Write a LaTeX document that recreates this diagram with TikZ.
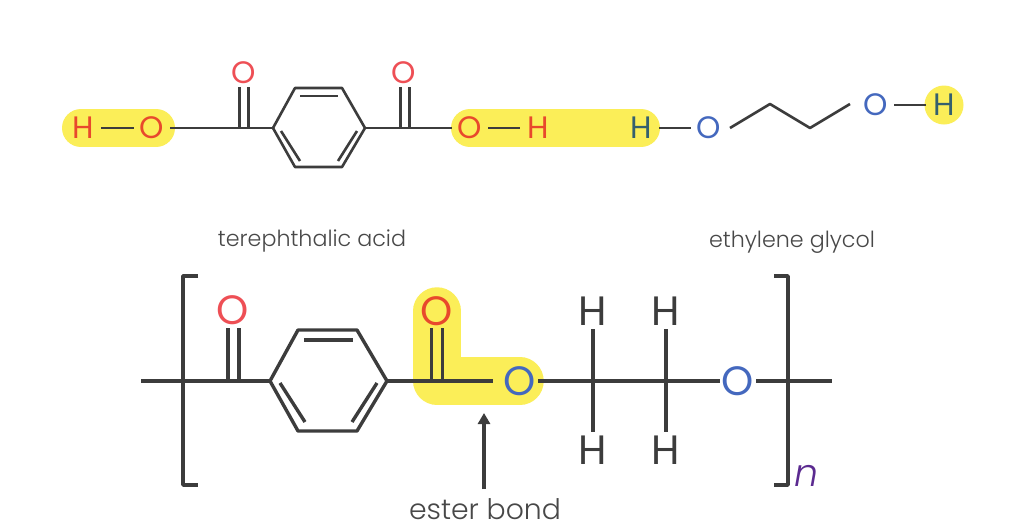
\documentclass[tikz,border=0pt]{standalone}
\usepackage{fontspec}
\setmainfont{Poppins Light}[ItalicFont={Poppins Light Italic}]
\newfontfamily\atomfont{Poppins}
\usetikzlibrary{backgrounds,arrows.meta}
\definecolor{bondc}{HTML}{3C3C3C}
\definecolor{redO}{HTML}{EE4F55}
\definecolor{orangeO}{HTML}{E8492C}
\definecolor{blueO}{HTML}{4468BE}
\definecolor{hlc}{HTML}{FBEE58}
\definecolor{navyH}{HTML}{34606E}
\definecolor{labelc}{HTML}{484848}
\definecolor{purpleN}{HTML}{5B2A90}
\newcommand{\atomtxt}[1]{\makebox[0pt]{#1}}
\tikzset{
  bondA/.style={draw=bondc,line width=2.6pt},
  bondB/.style={draw=bondc,line width=3.4pt},
  atomA/.style={circle,inner sep=0pt,minimum size=36pt,font=\atomfont\fontsize{31}{31}\selectfont},
  atomB/.style={circle,inner sep=0pt,minimum size=36pt,font=\atomfont\fontsize{41}{41}\selectfont},
  capt/.style={inner sep=0pt,text=labelc,font=\fontsize{22.2}{24}\selectfont},
  hl/.style={draw=hlc,line cap=round,line join=round},
}
\begin{document}
\begin{tikzpicture}[x=1pt,y=-1pt]
\useasboundingbox (0,0) rectangle (1031,528);
% ---- top: terephthalic acid
\node[atomA,text=orangeO] (hA) at (83,128) {\atomtxt{H}};
\node[atomA,text=orangeO] (oA) at (152,128) {\atomtxt{O}};
\node[atomA,text=redO] (oB) at (244,73) {\atomtxt{O}};
\node[atomA,text=redO] (oC) at (404,73) {\atomtxt{O}};
\node[atomA,text=orangeO] (oD) at (470,128) {\atomtxt{O}};
\node[atomA,text=orangeO] (hD) at (538,128) {\atomtxt{H}};
\coordinate (r1) at (273,128);
\coordinate (r2) at (295,88);
\coordinate (r3) at (342,88);
\coordinate (r4) at (365,128);
\coordinate (r5) at (342,167);
\coordinate (r6) at (295,167);
\coordinate (i1) at (300,96);
\coordinate (i2) at (338,96);
\coordinate (i3) at (281,131);
\coordinate (i4) at (300,161);
\coordinate (i5) at (357,131);
\coordinate (i6) at (338,161);
\coordinate (dB1) at (239.5,87);
\coordinate (dB2) at (239.5,128);
\coordinate (dB3) at (248.5,87);
\coordinate (dB4) at (248.5,128);
\coordinate (dC1) at (400.5,87);
\coordinate (dC2) at (400.5,128);
\coordinate (dC3) at (409.5,87);
\coordinate (dC4) at (409.5,128);
\draw[bondA] (hA) -- (oA);
\draw[bondA] (oA) -- (r1);
\draw[bondA] (r4) -- (oD);
\draw[bondA] (oD) -- (hD);
\draw[bondA,line join=round] (r1) -- (r2) -- (r3) -- (r4) -- (r5) -- (r6) -- cycle;
\draw[bondA] (i1) -- (i2);
\draw[bondA] (i3) -- (i4);
\draw[bondA] (i5) -- (i6);
\draw[bondA] (dB1) -- (dB2);
\draw[bondA] (dB3) -- (dB4);
\draw[bondA] (dC1) -- (dC2);
\draw[bondA] (dC3) -- (dC4);
% ---- top: ethylene glycol
\node[atomA,text=navyH] (hE) at (641,128) {\atomtxt{H}};
\node[atomA,text=blueO] (oE) at (709,128) {\atomtxt{O}};
\node[atomA,text=blueO] (oF) at (876,105) {\atomtxt{O}};
\node[atomA,text=navyH] (hF) at (944,105) {\atomtxt{H}};
\coordinate (z1) at (730,128);
\coordinate (z2) at (770,104);
\coordinate (z3) at (810,128);
\coordinate (z4) at (850,104);
\draw[bondA] (hE) -- (oE);
\draw[bondA] (oF) -- (hF);
\draw[bondA,line join=round] (z1) -- (z2) -- (z3) -- (z4);
\node[capt] (capA) at (312,241) {terephthalic acid};
\node[capt] (capB) at (792,242) {ethylene glycol};
% ---- bottom: polymer
\coordinate (bL0) at (141,381);
\coordinate (bL1) at (198,276);
\coordinate (bL2) at (183,276);
\coordinate (bL3) at (183,485);
\coordinate (bL4) at (198,485);
\node[atomB,text=redO] (oG) at (233,310) {\atomtxt{O}};
\coordinate (s1) at (270,381);
\coordinate (s2) at (298,330);
\coordinate (s3) at (357,330);
\coordinate (s4) at (387,381);
\coordinate (s5) at (357,431);
\coordinate (s6) at (298,431);
\coordinate (t1) at (304,340);
\coordinate (t2) at (353,340);
\coordinate (t3) at (280,383);
\coordinate (t4) at (305,422);
\coordinate (t5) at (377,383);
\coordinate (t6) at (352,422);
\coordinate (dG1) at (228,328);
\coordinate (dG2) at (228,381);
\coordinate (dG3) at (239,328);
\coordinate (dG4) at (239,381);
\node[atomB,text=orangeO] (oH) at (437,311) {\atomtxt{O}};
\coordinate (dH1) at (431.5,328);
\coordinate (dH2) at (431.5,381);
\coordinate (dH3) at (442.5,328);
\coordinate (dH4) at (442.5,381);
\coordinate (cH) at (437,381);
\coordinate (bondEnd) at (493,381);
\node[atomB,text=blueO] (oI) at (520,381) {\atomtxt{O}};
\node[atomB,text=bondc] (hJ1) at (593,311) {\atomtxt{H}};
\node[atomB,text=bondc] (hJ2) at (593,450) {\atomtxt{H}};
\node[atomB,text=bondc] (hK1) at (666,311) {\atomtxt{H}};
\node[atomB,text=bondc] (hK2) at (666,450) {\atomtxt{H}};
\node[atomB,text=blueO] (oL) at (738,381) {\atomtxt{O}};
\coordinate (bR0) at (832,381);
\coordinate (bR1) at (774,276);
\coordinate (bR2) at (788,276);
\coordinate (bR3) at (788,485);
\coordinate (bR4) at (774,485);
\node[inner sep=0pt,text=purpleN,font=\fontsize{38}{38}\itshape\selectfont] (nn) at (807,476) {n};
\draw[bondB] (bL0) -- (s1);
\draw[bondB,line join=round] (bL1) -- (bL2) -- (bL3) -- (bL4);
\draw[bondB,line join=round] (s1) -- (s2) -- (s3) -- (s4) -- (s5) -- (s6) -- cycle;
\draw[bondB] (t1) -- (t2);
\draw[bondB] (t3) -- (t4);
\draw[bondB] (t5) -- (t6);
\draw[bondB] (dG1) -- (dG2);
\draw[bondB] (dG3) -- (dG4);
\draw[bondB] (dH1) -- (dH2);
\draw[bondB] (dH3) -- (dH4);
\draw[bondB] (s4) -- (bondEnd);
\draw[bondB] (oI) -- (oL);
\draw[bondB] (hJ1) -- (hJ2);
\draw[bondB] (hK1) -- (hK2);
\draw[bondB] (oL) -- (bR0);
\draw[bondB,line join=round] (bR1) -- (bR2) -- (bR3) -- (bR4);
% ---- ester bond label and arrow
\node[inner sep=0pt,text=labelc,font=\fontsize{28.3}{30}\selectfont] (ester) at (485,509) {ester bond};
\coordinate (arrowTip) at (484,413);
\coordinate (arrowTail) at (484,489);
\draw[bondB,-{Triangle[length=11pt,width=12pt]}] (arrowTail) -- (arrowTip);
% ---- highlights
\begin{scope}[on background layer]
\fill[white] (0,0) rectangle (1031,528);
\draw[hl,line width=38pt,shorten <=-2pt,shorten >=-4pt] (hA.center) -- (oA.center);
\draw[hl,line width=38pt] (oD.center) -- (hE.center);
\fill[hlc] (hF) circle (19.5pt);
\draw[hl,line width=47.5pt] (oH.center) -- (cH) -- (oI.center);
\end{scope}
\end{tikzpicture}
\end{document}
